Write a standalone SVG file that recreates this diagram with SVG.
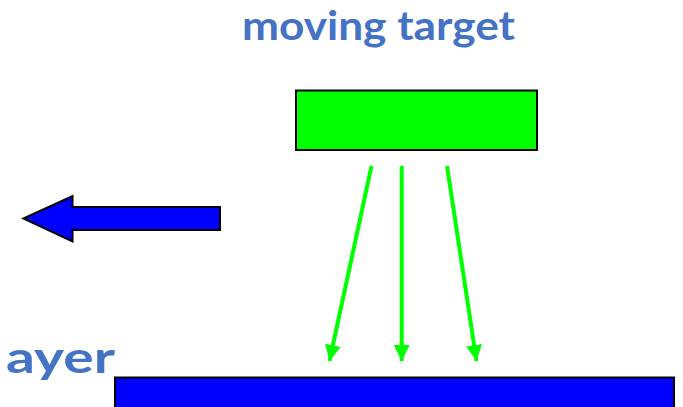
<svg xmlns="http://www.w3.org/2000/svg" width="683" height="407" viewBox="0 0 683 407">
  <style>
    .label { font-family: Lato, "Open Sans", "Liberation Sans", sans-serif; font-weight: bold; fill: #4472C4; }
    .ray { stroke: #00FF00; stroke-width: 4; fill: none; }
  </style>
  <defs>
    <marker id="head" viewBox="0 0 10 10" refX="10" refY="5" markerWidth="16" markerHeight="16" markerUnits="userSpaceOnUse" orient="auto">
      <path d="M0,0 L10,5 L0,10 z" fill="#00FF00"/>
    </marker>
  </defs>
  <rect width="683" height="407" fill="#FFFFFF"/>

  <g id="title">
    <text class="label" x="242" y="40" font-size="40.5" textLength="273" lengthAdjust="spacingAndGlyphs">moving target</text>
  </g>

  <g id="target">
    <rect x="296" y="90.5" width="241" height="59.5" fill="#00FF00" stroke="#000000" stroke-width="2"/>
  </g>

  <g id="motion-arrow">
    <path d="M23.5,218.5 L72.5,196 L72.5,207 L220,207 L220,230 L72.5,230 L72.5,241.5 Z" fill="#0000FF" stroke="#000000" stroke-width="2" stroke-linejoin="miter"/>
  </g>

  <g id="player-label">
    <text class="label" x="6" y="373" font-size="44" textLength="109" lengthAdjust="spacingAndGlyphs">ayer</text>
  </g>

  <g id="player">
    <rect x="115" y="377.5" width="559" height="40" fill="#0000FF" stroke="#000000" stroke-width="2"/>
  </g>

  <g id="connectors">
    <line class="ray" x1="371.5" y1="166" x2="329.5" y2="361" marker-end="url(#head)"/>
    <line class="ray" x1="401.7" y1="166" x2="401.7" y2="361" marker-end="url(#head)"/>
    <line class="ray" x1="447" y1="166" x2="476.5" y2="361" marker-end="url(#head)"/>
  </g>
</svg>
